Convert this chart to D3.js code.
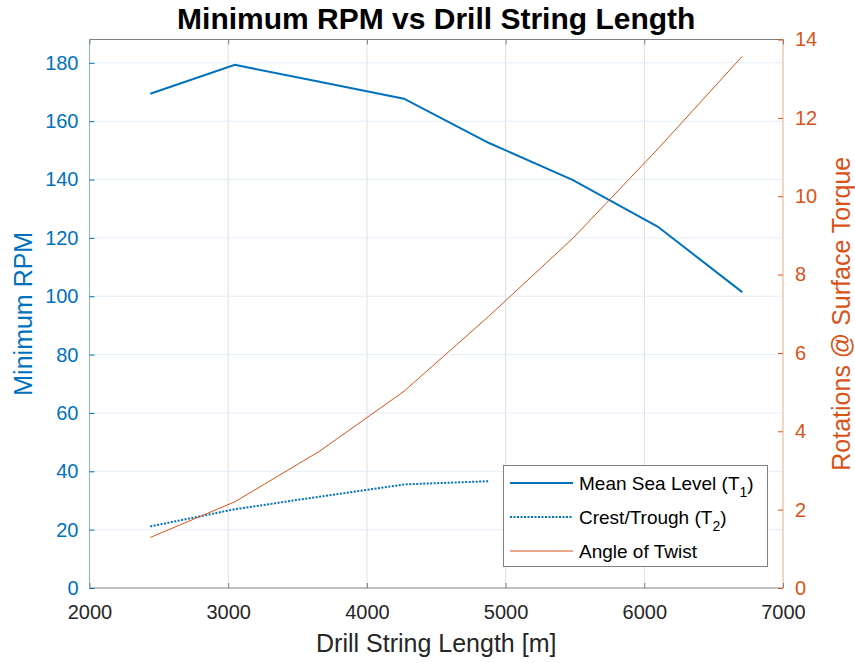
<!DOCTYPE html>
<html><head><meta charset="utf-8">
<script src="https://cdn.jsdelivr.net/npm/d3@7"></script>
<style>body{margin:0;background:#fff;} text{font-family:"Liberation Sans",Arial,sans-serif;}</style>
</head><body><svg id="c" width="855" height="663"></svg>
<script>
const lengths = [2438, 3048, 3658, 4267, 4877, 5486, 6096, 6706];
const meanSeaLevel = [169.4, 179.3, 173.5, 167.7, 152.6, 139.8, 123.9, 101.4];
const crestLengths = [2438, 3048, 3658, 4267, 4877];
const crestTrough = [21.1, 27.0, 31.3, 35.5, 36.6];
const angleOfTwist = [1.29, 2.2, 3.49, 5.02, 6.93, 8.93, 11.2, 13.57];
const xTicks = [2000, 3000, 4000, 5000, 6000, 7000];
const yLeftTicks = [0, 20, 40, 60, 80, 100, 120, 140, 160, 180];
const yRightTicks = [0, 2, 4, 6, 8, 10, 12, 14];

const blue = "#0072BD", orange = "#D95319", dark = "#262626";
const L = 89.5, R = 783, T = 39.5, B = 588;
const svg = d3.select("#c");
const x = d3.scaleLinear().domain([2000, 7000]).range([L, R]);
const yL = d3.scaleLinear().domain([0, 188]).range([B, T]);
const yR = d3.scaleLinear().domain([0, 14]).range([B, T]);

// grid
svg.append("g").selectAll("line").data(xTicks.slice(1, -1)).join("line")
  .attr("x1", d => x(d)).attr("x2", d => x(d)).attr("y1", T).attr("y2", B)
  .attr("stroke", "#dedede").attr("stroke-width", 1);
svg.append("g").selectAll("line").data(yLeftTicks.slice(1)).join("line")
  .attr("x1", L).attr("x2", R).attr("y1", d => yL(d)).attr("y2", d => yL(d))
  .attr("stroke", "#e3eef7").attr("stroke-width", 1);

// box
svg.append("line").attr("x1", L).attr("x2", R).attr("y1", B).attr("y2", B).attr("stroke", "#808080");
svg.append("line").attr("x1", L).attr("x2", R).attr("y1", T).attr("y2", T).attr("stroke", "#808080");
svg.append("line").attr("x1", L).attr("x2", L).attr("y1", T).attr("y2", B).attr("stroke", "#7fb8de");
svg.append("line").attr("x1", R).attr("x2", R).attr("y1", T).attr("y2", B).attr("stroke", "#eea98c");

// axes
const xAxis = d3.axisBottom(x).tickValues(xTicks).tickSizeInner(-5).tickSizeOuter(0).tickPadding(12).tickFormat(d3.format("d"));
const gx = svg.append("g").attr("transform", `translate(0,${B})`).call(xAxis);
gx.select(".domain").remove();
gx.selectAll("line").attr("stroke", "#808080");
gx.selectAll("text").attr("fill", dark).style("font-size", "20px").attr("y", 31).attr("dy", null);
const xTop = d3.axisTop(x).tickValues(xTicks).tickSizeInner(-5).tickSizeOuter(0).tickFormat("");
const gxt = svg.append("g").attr("transform", `translate(0,${T})`).call(xTop);
gxt.select(".domain").remove();
gxt.selectAll("line").attr("stroke", "#808080");

const yAxisL = d3.axisLeft(yL).tickValues(yLeftTicks).tickSizeInner(-5).tickSizeOuter(0).tickPadding(11);
const gyl = svg.append("g").attr("transform", `translate(${L},0)`).call(yAxisL);
gyl.select(".domain").remove();
gyl.selectAll("line").attr("stroke", blue);
gyl.selectAll("text").attr("fill", blue).style("font-size", "20px");

const yAxisR = d3.axisRight(yR).tickValues(yRightTicks).tickSizeInner(-5).tickSizeOuter(0).tickPadding(12);
const gyr = svg.append("g").attr("transform", `translate(${R},0)`).call(yAxisR);
gyr.select(".domain").remove();
gyr.selectAll("line").attr("stroke", orange);
gyr.selectAll("text").attr("fill", orange).style("font-size", "20px");

// lines
const lineL = d3.line().x(d => x(d[0])).y(d => yL(d[1]));
const lineR = d3.line().x(d => x(d[0])).y(d => yR(d[1]));
svg.append("path").datum(lengths.map((v, i) => [v, meanSeaLevel[i]])).attr("d", lineL)
  .attr("fill", "none").attr("stroke", blue).attr("stroke-width", 2);
svg.append("path").datum(crestLengths.map((v, i) => [v, crestTrough[i]])).attr("d", lineL)
  .attr("fill", "none").attr("stroke", blue).attr("stroke-width", 2).attr("stroke-dasharray", "2,1.5");
svg.append("path").datum(lengths.map((v, i) => [v, angleOfTwist[i]])).attr("d", lineR)
  .attr("fill", "none").attr("stroke", orange).attr("stroke-width", 1);

// title & labels
svg.append("text").attr("x", (L + R) / 2).attr("y", 29).attr("text-anchor", "middle")
  .style("font-size", "30px").style("font-weight", "bold").attr("fill", "#000").text("Minimum RPM vs Drill String Length");
svg.append("text").attr("x", (L + R) / 2).attr("y", 652).attr("text-anchor", "middle")
  .style("font-size", "25px").attr("fill", dark).text("Drill String Length [m]");
svg.append("text").attr("transform", `translate(32,${(T + B) / 2}) rotate(-90)`).attr("text-anchor", "middle")
  .style("font-size", "25px").attr("fill", blue).text("Minimum RPM");
svg.append("text").attr("transform", `translate(850,${(T + B) / 2}) rotate(-90)`).attr("text-anchor", "middle")
  .style("font-size", "25px").attr("fill", orange).text("Rotations @ Surface Torque");

// legend
const lg = svg.append("g");
lg.append("rect").attr("x", 503.5).attr("y", 465.5).attr("width", 264).attr("height", 101)
  .attr("fill", "#fff").attr("stroke", "#808080").attr("stroke-width", 1);
const entries = [
  {name: "Mean Sea Level (T", sub: "1", color: blue, w: 2, dash: null},
  {name: "Crest/Trough (T", sub: "2", color: blue, w: 2, dash: "2,1.5"},
  {name: "Angle of Twist", sub: null, color: orange, w: 1, dash: null}
];
entries.forEach((e, i) => {
  const cy = 483 + i * 34;
  lg.append("line").attr("x1", 510).attr("x2", 573).attr("y1", cy).attr("y2", cy)
    .attr("stroke", e.color).attr("stroke-width", e.w).attr("stroke-dasharray", e.dash);
  const t = lg.append("text").attr("x", 579).attr("y", cy + 7).style("font-size", "19px").attr("fill", "#000");
  t.append("tspan").text(e.name);
  if (e.sub) {
    t.append("tspan").attr("dy", 7).style("font-size", "14px").text(e.sub);
    t.append("tspan").attr("dy", -7).text(")");
  }
});
</script></body></html>
